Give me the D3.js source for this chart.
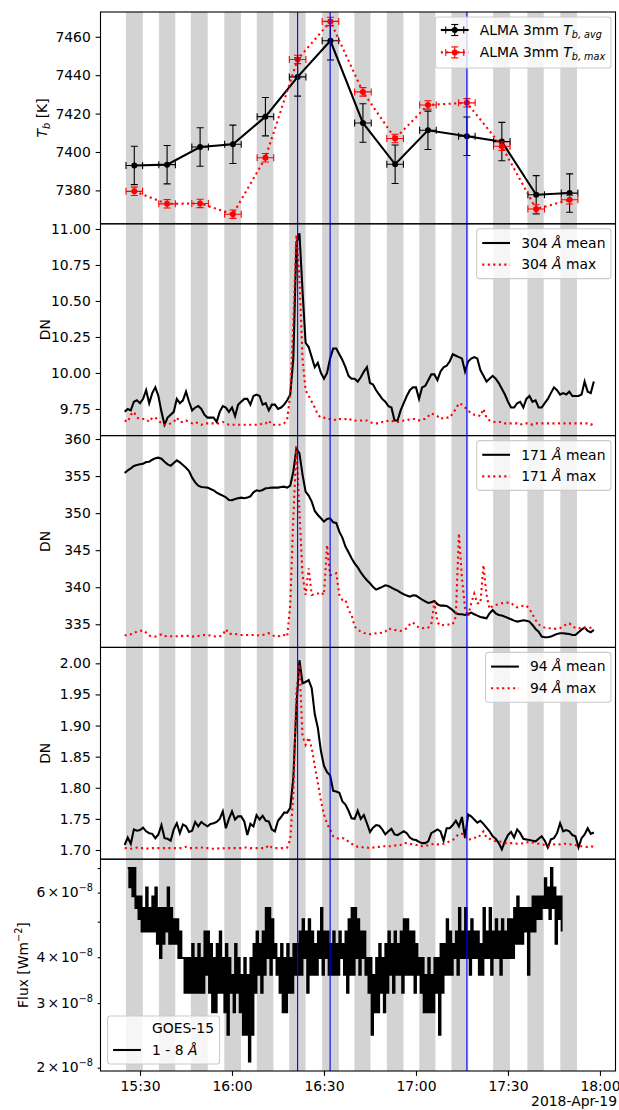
<!DOCTYPE html>
<html>
<head>
<meta charset="utf-8">
<script src="https://cdn.jsdelivr.net/npm/d3@7"></script>
<style>
  body { margin: 0; background: #fff; }
  text { font-family: "DejaVu Sans", sans-serif; }
</style>
</head>
<body>
<svg id="chart" width="619" height="1110"></svg>
<script>
// ---- data (2018-04-19, UT) ----

// ALMA scans (gray bands)
const scanStart = ["15:25:25","15:36:10","15:46:35","15:57:30","16:08:05","16:18:40","16:29:25",
                   "16:39:55","16:50:30","17:01:05","17:11:35","17:25:10","17:36:20","17:47:05"];
const scanEnd   = ["15:30:55","15:41:30","15:52:05","16:02:55","16:13:30","16:24:00","16:34:50",
                   "16:45:10","16:55:55","17:06:20","17:17:05","17:30:40","17:41:40","17:52:30"];

// blue marker lines
const eventTimes = ["16:21:24","16:32:00","17:16:36"];

// ALMA 3mm brightness temperatures
const almaTimes = ["15:28:08","15:38:50","15:49:36","16:00:18","16:10:54","16:21:24","16:32:06",
                   "16:42:42","16:53:12","17:03:54","17:16:36","17:28:00","17:39:12","17:50:06"];
const tbAvg    = [7393.0,7393.4,7402.6,7404.0,7418.4,7439.1,7457.9,7415.1,7393.6,7411.3,7408.2,7405.4,7377.7,7378.6];
const tbAvgErr = [10,10,10,10,10,10,10,10,10,10,10,10,10,10];
const tbMax    = [7379.5,7373.0,7373.2,7367.6,7397.0,7448.2,7468.0,7431.3,7407.0,7424.5,7425.6,7403.0,7370.3,7375.1];
const tbMaxErr = [2.2,2.2,2.2,2.2,2.2,2.2,2.2,2.2,2.2,2.2,2.2,2.2,2.2,2.2];
const almaTimeErrSec = 162;

// SDO/AIA light curves, one value per minute from 15:25
const aiaStart = "15:25:00";
const aiaCadenceSec = 60;
const aia304Mean = [9.73,9.75,9.74,9.80,9.81,
  9.79,9.82,9.88,9.79,9.86,9.90,9.84,9.73,9.64,9.69,
  9.71,9.73,9.82,9.79,9.81,9.87,9.80,9.74,9.76,9.77,
  9.75,9.71,9.69,9.69,9.69,9.66,9.73,9.77,9.76,9.73,
  9.76,9.70,9.78,9.80,9.82,9.82,9.78,9.84,9.85,9.84,
  9.78,9.79,9.74,9.78,9.78,9.75,9.76,9.78,9.81,9.85,
  10.10,10.90,10.97,10.57,10.21,10.18,10.11,10.04,10.07,10.00,
  9.96,10.00,10.10,10.17,10.17,10.13,10.09,10.04,9.98,9.96,
  9.96,9.94,9.97,10.01,10.04,9.93,9.92,9.88,9.85,9.82,
  9.80,9.77,9.76,9.67,9.67,9.74,9.79,9.84,9.88,9.90,
  9.90,9.82,9.90,9.91,9.95,9.99,9.99,9.95,10.01,10.04,
  10.05,10.08,10.13,10.12,10.11,10.10,10.01,10.08,10.10,10.11,
  10.10,10.02,9.98,9.94,9.96,9.98,9.96,9.93,9.89,9.85,
  9.80,9.76,9.76,9.79,9.80,9.76,9.82,9.84,9.80,9.81,
  9.76,9.76,9.79,9.82,9.86,9.90,9.88,9.85,9.86,9.85,
  9.87,9.84,9.84,9.84,9.85,9.94,9.87,9.86,9.94];
const aia304Max = [9.67,9.66,9.71,9.73,9.69,
  9.68,9.68,9.68,9.66,9.69,9.69,9.67,9.65,9.64,9.64,
  9.65,9.66,9.69,9.66,9.66,9.67,9.66,9.65,9.66,9.65,
  9.64,9.65,9.65,9.65,9.65,9.65,9.65,9.66,9.65,9.64,
  9.64,9.64,9.64,9.64,9.64,9.64,9.64,9.64,9.64,9.64,
  9.65,9.65,9.67,9.64,9.64,9.64,9.64,9.65,9.68,9.85,
  10.36,10.96,10.66,10.10,9.88,9.84,9.80,9.76,9.71,9.69,
  9.69,9.68,9.68,9.68,9.67,9.68,9.68,9.68,9.67,9.68,
  9.67,9.67,9.67,9.67,9.67,9.66,9.65,9.65,9.65,9.66,
  9.66,9.67,9.67,9.66,9.66,9.66,9.67,9.67,9.68,9.68,
  9.68,9.67,9.68,9.68,9.70,9.72,9.71,9.70,9.68,9.69,
  9.69,9.69,9.72,9.75,9.79,9.78,9.76,9.74,9.72,9.71,
  9.71,9.70,9.75,9.69,9.67,9.66,9.66,9.66,9.66,9.65,
  9.65,9.65,9.65,9.65,9.64,9.65,9.65,9.65,9.64,9.65,
  9.65,9.65,9.65,9.65,9.65,9.65,9.65,9.65,9.65,9.65,
  9.65,9.65,9.65,9.65,9.65,9.65,9.65,9.64,9.65];
const aia171Mean = [355.41,355.77,356.04,356.36,356.49,
  356.58,356.67,356.90,356.94,357.21,357.39,357.48,357.35,356.94,356.58,
  356.40,356.76,357.12,356.85,356.49,356.13,355.68,354.78,354.15,353.71,
  353.53,353.48,353.44,353.26,353.08,352.76,352.54,352.36,352.13,351.77,
  351.73,351.91,352.00,352.09,352.00,352.09,352.27,352.81,353.08,352.99,
  353.12,353.35,353.39,353.44,353.44,353.44,353.53,353.57,353.44,353.71,
  355.59,358.70,358.07,355.20,352.90,352.36,351.55,350.29,349.75,349.30,
  348.85,349.21,349.30,348.76,348.67,347.50,346.69,345.48,344.71,343.90,
  343.23,342.69,342.01,341.43,340.94,340.53,340.04,339.68,339.86,340.04,
  340.26,340.17,339.95,339.72,339.54,339.27,339.05,338.87,338.73,338.91,
  338.87,338.60,338.33,338.10,337.88,337.97,338.15,337.70,337.52,337.52,
  337.47,337.20,336.89,336.48,336.35,336.35,336.26,336.39,336.57,336.35,
  336.17,335.99,335.90,335.81,336.48,336.93,336.48,336.26,336.17,336.03,
  335.85,335.67,335.49,335.36,335.45,335.54,335.49,335.36,334.91,334.37,
  334.01,333.34,333.25,333.25,333.34,333.52,333.70,333.79,333.79,333.74,
  333.70,333.56,333.56,333.92,334.28,334.55,334.10,333.92,334.24];
const aia171Max = [333.56,333.47,333.65,333.92,333.97,
  334.10,334.19,333.88,333.47,333.38,333.34,333.47,333.65,333.43,333.38,
  333.38,333.38,333.38,333.43,333.43,333.47,333.43,333.34,333.38,333.43,
  333.47,333.56,333.56,333.47,333.38,333.34,333.38,333.56,334.33,333.70,
  333.70,333.70,333.65,333.56,333.56,333.56,333.56,333.56,333.52,333.47,
  333.56,333.65,333.79,333.56,333.38,333.34,333.52,333.56,333.34,337.61,
  349.30,358.97,350.20,341.65,338.96,342.55,338.96,339.05,339.14,339.32,
  338.96,345.70,341.65,341.65,341.88,338.96,338.28,338.28,336.93,336.26,
  334.69,334.28,334.01,333.83,333.74,333.65,333.70,333.79,333.88,333.83,
  334.01,334.46,334.28,334.24,334.19,334.10,334.28,334.46,335.00,335.27,
  334.82,334.55,334.46,334.51,334.55,335.00,338.06,335.27,334.82,334.91,
  334.91,335.00,335.00,336.03,347.27,341.21,337.16,336.03,337.83,339.14,
  337.83,337.83,343.00,339.00,337.07,337.47,337.61,337.70,337.83,337.88,
  337.92,337.88,337.52,337.29,337.34,337.52,337.52,337.07,336.35,335.58,
  335.00,334.69,334.55,334.46,334.46,334.42,334.37,334.51,334.69,335.00,
  335.13,334.82,334.46,334.46,334.51,334.55,334.46,334.55,334.73];
const aia94Mean = [1.708,1.720,1.710,1.733,1.731,
  1.732,1.736,1.730,1.727,1.726,1.719,1.725,1.740,1.719,1.718,
  1.715,1.733,1.743,1.727,1.741,1.738,1.729,1.731,1.745,1.738,
  1.745,1.741,1.738,1.742,1.743,1.745,1.750,1.762,1.735,1.750,
  1.762,1.749,1.754,1.754,1.746,1.724,1.742,1.738,1.756,1.749,
  1.755,1.747,1.746,1.733,1.730,1.747,1.753,1.760,1.760,1.768,
  1.816,1.931,2.005,1.968,1.970,1.973,1.960,1.918,1.896,1.859,
  1.835,1.825,1.820,1.795,1.794,1.792,1.778,1.773,1.763,1.751,
  1.750,1.763,1.750,1.756,1.743,1.729,1.736,1.740,1.739,1.733,
  1.725,1.730,1.734,1.725,1.724,1.727,1.730,1.727,1.720,1.717,
  1.716,1.713,1.711,1.711,1.714,1.727,1.730,1.733,1.730,1.715,
  1.735,1.735,1.740,1.747,1.738,1.753,1.719,1.757,1.754,1.749,
  1.744,1.747,1.742,1.736,1.730,1.722,1.718,1.711,1.701,1.714,
  1.724,1.729,1.720,1.733,1.727,1.718,1.717,1.716,1.715,1.714,
  1.718,1.722,1.715,1.704,1.717,1.719,1.727,1.743,1.730,1.732,
  1.730,1.724,1.722,1.704,1.719,1.725,1.735,1.726,1.728];
const aia94Max = [1.703,1.703,1.702,1.703,1.704,
  1.703,1.703,1.702,1.703,1.703,1.703,1.703,1.703,1.703,1.703,
  1.703,1.703,1.703,1.703,1.703,1.705,1.703,1.703,1.703,1.704,
  1.704,1.703,1.703,1.702,1.702,1.702,1.703,1.703,1.702,1.703,
  1.703,1.703,1.703,1.703,1.704,1.704,1.703,1.703,1.703,1.703,
  1.703,1.703,1.708,1.704,1.703,1.703,1.703,1.703,1.704,1.717,
  1.789,1.955,1.998,1.883,1.869,1.881,1.864,1.835,1.808,1.779,
  1.757,1.742,1.733,1.722,1.719,1.718,1.719,1.718,1.713,1.710,
  1.708,1.705,1.705,1.704,1.704,1.703,1.704,1.705,1.705,1.706,
  1.706,1.706,1.706,1.707,1.708,1.708,1.711,1.711,1.710,1.709,
  1.708,1.708,1.706,1.706,1.708,1.709,1.710,1.709,1.709,1.710,
  1.712,1.714,1.716,1.721,1.726,1.726,1.724,1.716,1.718,1.720,
  1.719,1.724,1.730,1.720,1.718,1.716,1.714,1.714,1.713,1.711,
  1.711,1.711,1.711,1.710,1.710,1.711,1.712,1.713,1.712,1.711,
  1.710,1.709,1.708,1.706,1.707,1.709,1.709,1.709,1.710,1.710,
  1.709,1.709,1.708,1.706,1.706,1.705,1.705,1.706,1.705];

// GOES-15 1-8 A flux (units of 1e-8 W m^-2): per minute from 15:26, upper and lower level
const goesStart = "15:26:00";
const goesHigh = [7.0,7.0,7.0,5.86,
  5.86,5.45,6.2,5.45,5.86,6.2,5.45,5.45,5.45,6.2,
  5.45,5.08,5.08,4.7,3.98,3.98,3.98,4.35,3.98,4.35,
  3.98,4.7,4.7,4.35,3.98,4.35,4.7,3.98,4.35,3.98,
  3.58,4.35,3.98,3.58,3.98,3.58,3.98,4.35,4.7,4.35,
  4.7,5.45,5.45,5.08,4.35,3.98,4.35,3.98,4.35,3.98,
  4.35,4.35,4.7,5.08,4.7,5.08,4.7,4.35,4.7,5.45,
  4.7,4.7,4.35,4.7,4.35,4.7,4.35,4.7,5.08,5.45,
  5.45,5.08,4.7,4.7,3.98,3.98,3.58,3.98,4.35,3.98,
  4.35,4.7,4.35,4.7,4.35,4.7,5.08,5.08,4.7,4.7,
  4.35,3.98,3.98,3.58,3.98,3.58,3.98,3.98,4.35,4.35,
  5.08,4.7,4.35,4.7,5.45,4.7,5.45,4.7,5.08,4.7,
  4.7,4.35,5.45,4.7,5.45,4.7,5.08,4.7,5.08,4.7,
  5.08,5.08,5.45,5.86,5.45,5.45,5.45,5.45,5.86,5.86,
  5.86,5.86,6.57,6.2,7.0,6.2,5.86,5.86];
const goesLow = [6.2,5.86,5.45,5.08,
  4.7,4.7,4.7,4.7,4.7,4.35,3.98,4.35,4.7,4.35,
  4.35,4.35,3.98,3.98,3.2,3.2,3.2,3.2,3.2,3.2,
  3.2,3.58,3.2,2.83,2.83,3.2,3.2,2.83,2.46,3.2,
  2.83,3.2,2.83,2.46,2.46,2.08,2.46,3.2,3.58,3.2,
  3.58,3.98,3.58,3.98,3.58,3.2,2.83,2.83,3.2,3.2,
  3.58,3.58,3.58,3.98,3.2,3.58,3.58,3.58,3.98,3.58,
  3.98,3.58,3.58,3.58,3.58,3.98,3.58,3.2,3.58,3.58,
  3.98,3.58,3.98,3.58,3.2,2.46,2.83,2.83,3.2,2.83,
  3.2,3.58,3.2,3.58,3.58,3.2,3.58,3.58,3.58,3.2,
  3.58,3.2,2.83,2.83,2.83,2.83,3.2,2.46,3.2,3.58,
  3.58,3.58,3.98,3.58,3.98,3.98,3.98,3.58,3.98,3.98,
  3.58,3.58,3.98,3.98,3.58,3.98,3.98,3.58,3.98,3.98,
  3.98,3.98,4.35,4.35,4.35,4.7,3.58,4.7,4.7,5.08,
  5.08,5.45,5.45,5.08,5.45,4.35,5.08,4.7];

// axis ticks
const timeTicks = ["15:30","16:00","16:30","17:00","17:30","18:00"];
const tbTicks = [7380, 7400, 7420, 7440, 7460];
const dn304Ticks = [9.75, 10.0, 10.25, 10.5, 10.75, 11.0];
const dn171Ticks = [335, 340, 345, 350, 355, 360];
const dn94Ticks = [1.70, 1.75, 1.80, 1.85, 1.90, 1.95, 2.00];
const fluxTicks = [2, 3, 4, 5, 6, 7];
const fluxLabelled = [2, 3, 4, 6];

// ---- layout ----
const FS = 13.9, SUB = 9.7;
const tickLen = 4.86, tickPad = 4.86, lw = 2.08, dots = "2.08,3.43";
const left = 100.5, right = 615.5;
const panelTop = [12, 223.8, 435.6, 647.4, 859.2];
const panelH = 211.8;
const dnLabelX = 50;   // the three DN labels share one column

const parseTime = d3.utcParse("%Y-%m-%d %H:%M:%S");
const at = s => parseTime("2018-04-19 " + (s.length === 5 ? s + ":00" : s));
const addSec = (d, s) => new Date(+d + s * 1000);

const svg = d3.select("#chart");
const defs = svg.append("defs");
svg.append("rect").attr("width", 619).attr("height", 1110).attr("fill", "#fff");

const x = d3.scaleUtc().domain([at("15:17:07"), at("18:05:04")]).range([left, right]);

const yScales = [
  d3.scaleLinear().domain([7362.6, 7472.9]),
  d3.scaleLinear().domain([9.565, 11.036]),
  d3.scaleLinear().domain([331.88, 360.46]),
  d3.scaleLinear().domain([1.6852, 2.0256]),
  d3.scaleLog().domain([1.959, 7.40])
];
yScales.forEach((s, i) => s.range([panelTop[i] + panelH, panelTop[i]]));

// panel backgrounds: scan bands, clipped to the axes
const plots = panelTop.map((top, i) => {
  defs.append("clipPath").attr("id", "clip" + i)
    .append("rect").attr("x", left).attr("y", top).attr("width", right - left).attr("height", panelH);
  const g = svg.append("g").attr("clip-path", `url(#clip${i})`);
  g.selectAll("rect.band").data(scanStart).join("rect")
    .attr("class", "band")
    .attr("x", d => x(at(d)))
    .attr("width", (d, j) => x(at(scanEnd[j])) - x(at(d)))
    .attr("y", top).attr("height", panelH)
    .attr("fill", "#d3d3d3");
  return g;
});

// ---- panel 1: ALMA ----
function errorSeries(g, times, vals, errs, color, dashed) {
  const y = yScales[0];
  const pts = times.map((t, j) => ({ t: at(t), v: vals[j], e: errs[j] }));
  const eb = g.append("g").attr("stroke", color).attr("stroke-width", 1.1);
  pts.forEach(p => {
    const cx = x(p.t), cy = y(p.v);
    const x0 = x(addSec(p.t, -almaTimeErrSec)), x1 = x(addSec(p.t, almaTimeErrSec));
    const y0 = y(p.v - p.e), y1 = y(p.v + p.e);
    eb.append("line").attr("x1", x0).attr("x2", x1).attr("y1", cy).attr("y2", cy);
    eb.append("line").attr("x1", x0).attr("x2", x0).attr("y1", cy - 3.5).attr("y2", cy + 3.5);
    eb.append("line").attr("x1", x1).attr("x2", x1).attr("y1", cy - 3.5).attr("y2", cy + 3.5);
    eb.append("line").attr("x1", cx).attr("x2", cx).attr("y1", y0).attr("y2", y1);
    eb.append("line").attr("x1", cx - 3.5).attr("x2", cx + 3.5).attr("y1", y0).attr("y2", y0);
    eb.append("line").attr("x1", cx - 3.5).attr("x2", cx + 3.5).attr("y1", y1).attr("y2", y1);
  });
  g.append("path").datum(pts)
    .attr("d", d3.line().x(p => x(p.t)).y(p => y(p.v)))
    .attr("fill", "none").attr("stroke", color).attr("stroke-width", lw)
    .attr("stroke-dasharray", dashed ? dots : null);
  g.selectAll(null).data(pts).join("circle")
    .attr("cx", p => x(p.t)).attr("cy", p => y(p.v)).attr("r", 3).attr("fill", color);
}
errorSeries(plots[0], almaTimes, tbAvg, tbAvgErr, "#000", false);
errorSeries(plots[0], almaTimes, tbMax, tbMaxErr, "#ff0000", true);

// ---- panels 2-4: AIA ----
const aiaTimes = aia304Mean.map((_, i) => addSec(at(aiaStart), i * aiaCadenceSec));
function aiaLine(i, vals, dashed) {
  const y = yScales[i];
  plots[i].append("path").datum(vals)
    .attr("d", d3.line().x((d, j) => x(aiaTimes[j])).y(d => y(d)))
    .attr("fill", "none")
    .attr("stroke", dashed ? "#ff0000" : "#000")
    .attr("stroke-width", lw)
    .attr("stroke-dasharray", dashed ? dots : null);
}
aiaLine(1, aia304Mean, false); aiaLine(1, aia304Max, true);
aiaLine(2, aia171Mean, false); aiaLine(2, aia171Max, true);
aiaLine(3, aia94Mean, false);  aiaLine(3, aia94Max, true);

// ---- panel 5: GOES ----
const goesPts = [];
goesHigh.forEach((h, i) => {
  const t = addSec(at(goesStart), i * 60);
  goesPts.push({ t, v: h });
  goesPts.push({ t: addSec(t, 30), v: goesLow[i] });
});
plots[4].append("path").datum(goesPts)
  .attr("d", d3.line().curve(d3.curveStepAfter).x(p => x(p.t)).y(p => yScales[4](p.v)))
  .attr("fill", "none").attr("stroke", "#000").attr("stroke-width", 1.9)
  .attr("stroke-linejoin", "miter");

// event lines on every panel
plots.forEach(g => {
  g.selectAll("line.event").data(eventTimes).join("line")
    .attr("class", "event")
    .attr("x1", d => x(at(d))).attr("x2", d => x(at(d)))
    .attr("y1", 0).attr("y2", 1110)
    .attr("stroke", "#0000ff").attr("stroke-width", 1.1);
});

// ---- axes ----
function styleAxis(ax) {
  ax.attr("font-size", null).attr("font-family", null);
  ax.select(".domain").remove();
  ax.selectAll("line").attr("stroke", "#000").attr("stroke-width", 1.1);
  ax.selectAll("text").attr("font-size", FS).attr("fill", "#000");
}

function yAxis(i, ticks, fmt) {
  const ax = svg.append("g").attr("transform", `translate(${left},0)`)
    .call(d3.axisLeft(yScales[i]).tickValues(ticks).tickFormat(fmt).tickSize(tickLen).tickPadding(tickPad));
  styleAxis(ax);
  return ax;
}

const yAxes = [
  yAxis(0, tbTicks, d3.format("d")),
  yAxis(1, dn304Ticks, d3.format(".2f")),
  yAxis(2, dn171Ticks, d3.format("d")),
  yAxis(3, dn94Ticks, d3.format(".2f"))
];

// log axis with minor ticks and mathtext-like labels
const fluxAx = svg.append("g").attr("transform", `translate(${left},0)`)
  .call(d3.axisLeft(yScales[4]).tickValues(fluxTicks).tickFormat("").tickSize(2.8).tickPadding(4.7));
styleAxis(fluxAx);
fluxAx.selectAll("text").remove();
fluxLabelled.forEach(v => {
  const t = fluxAx.append("text").attr("x", -7.5).attr("y", yScales[4](v) + 4.6)
    .attr("text-anchor", "end").attr("font-size", FS).attr("fill", "#000");
  t.append("tspan").text(v);
  t.append("tspan").attr("dx", 2).text("\u00d7");
  t.append("tspan").attr("dx", 2).text("10");
  t.append("tspan").attr("dy", -6).attr("font-size", SUB).text("\u22128");
});
yAxes.push(fluxAx);

// time axis at the bottom
const xAx = svg.append("g").attr("transform", `translate(0,${panelTop[4] + panelH})`)
  .call(d3.axisBottom(x).tickValues(timeTicks.map(at)).tickFormat(d3.utcFormat("%H:%M"))
    .tickSize(tickLen).tickPadding(tickPad));
styleAxis(xAx);
svg.append("text").attr("x", 617).attr("y", 1106).attr("text-anchor", "end")
  .attr("font-size", FS).text("2018-Apr-19");

// y labels, placed left of the tick labels (DN labels aligned)
const yLabels = [
  t => { t.append("tspan").attr("font-style", "italic").text("T");
         t.append("tspan").attr("font-style", "italic").attr("font-size", SUB).attr("dy", 3).text("b");
         t.append("tspan").attr("dy", -3).text(" [K]"); },
  t => t.text("DN"),
  t => t.text("DN"),
  t => t.text("DN"),
  t => { t.append("tspan").text("Flux [Wm");
         t.append("tspan").attr("font-size", SUB).attr("dy", -6).text("\u22122");
         t.append("tspan").attr("dy", 6).text("]"); }
];
yAxes.forEach((ax, i) => {
  const minX = left + ax.node().getBBox().x;
  const bx = (i >= 1 && i <= 3) ? dnLabelX : minX - 5.56 - 3.3;
  const cy = panelTop[i] + panelH / 2;
  const t = svg.append("text").attr("transform", `translate(${bx},${cy}) rotate(-90)`)
    .attr("text-anchor", "middle").attr("font-size", FS).attr("fill", "#000");
  yLabels[i](t);
});

// spines
panelTop.forEach(top => {
  svg.append("rect").attr("x", left).attr("y", top).attr("width", right - left).attr("height", panelH)
    .attr("fill", "none").attr("stroke", "#000").attr("stroke-width", 1.1);
});

// ---- legends ----
function drawHandle(g, kind, x0, x1, cy) {
  const cx = (x0 + x1) / 2;
  if (kind === "none") return;
  const color = kind.endsWith("red") ? "#ff0000" : "#000";
  const dashed = kind.startsWith("dot") || kind === "err-red";
  g.append("line").attr("x1", x0).attr("x2", x1).attr("y1", cy).attr("y2", cy)
    .attr("stroke", color).attr("stroke-width", lw).attr("stroke-dasharray", dashed ? dots : null);
  if (kind.startsWith("err")) {
    const e = g.append("g").attr("stroke", color).attr("stroke-width", 1.1);
    e.append("line").attr("x1", cx - 9).attr("x2", cx + 9).attr("y1", cy).attr("y2", cy);
    e.append("line").attr("x1", cx - 9).attr("x2", cx - 9).attr("y1", cy - 3.5).attr("y2", cy + 3.5);
    e.append("line").attr("x1", cx + 9).attr("x2", cx + 9).attr("y1", cy - 3.5).attr("y2", cy + 3.5);
    e.append("line").attr("x1", cx).attr("x2", cx).attr("y1", cy - 5.5).attr("y2", cy + 5.5);
    e.append("line").attr("x1", cx - 3.5).attr("x2", cx + 3.5).attr("y1", cy - 5.5).attr("y2", cy - 5.5);
    e.append("line").attr("x1", cx - 3.5).attr("x2", cx + 3.5).attr("y1", cy + 5.5).attr("y2", cy + 5.5);
    g.append("circle").attr("cx", cx).attr("cy", cy).attr("r", 3).attr("fill", color);
  }
}

function legend(entries, opts) {
  const g = svg.append("g");
  const box = g.append("rect").attr("rx", 2.8).attr("fill", "#fff").attr("fill-opacity", 0.8)
    .attr("stroke", "#cccccc").attr("stroke-width", 1.1);
  const texts = entries.map((e, k) => {
    const cy = opts.rows[k];
    drawHandle(g, e.kind, 5.56, 33.36, cy);
    const t = g.append("text").attr("x", 44.5).attr("y", cy + 4.9).attr("font-size", FS).attr("fill", "#000");
    e.label(t);
    return t;
  });
  const w = 44.5 + d3.max(texts, t => t.node().getBBox().width) + 5.56;
  box.attr("x", 0).attr("y", 0).attr("width", w).attr("height", opts.h);
  const gx = opts.right !== undefined ? opts.right - w : opts.left;
  g.attr("transform", `translate(${gx},${opts.top})`);
}

const ang = (t, pre, post) => {
  t.append("tspan").text(pre);
  t.append("tspan").attr("font-style", "italic").text("\u00c5");
  t.append("tspan").text(post);
};
const tbLabel = sub => t => {
  t.append("tspan").text("ALMA 3mm ");
  t.append("tspan").attr("font-style", "italic").text("T");
  t.append("tspan").attr("font-style", "italic").attr("font-size", SUB).attr("dy", 3).text(sub);
};

legend([
  { kind: "err-black", label: tbLabel("b, avg") },
  { kind: "err-red", label: tbLabel("b, max") }
], { right: 611, top: panelTop[0] + 5, h: 51, rows: [13, 35.4] });

[["304", 1], ["171", 2], ["94", 3]].forEach(([wl, i]) => {
  legend([
    { kind: "line", label: t => ang(t, wl + " ", " mean") },
    { kind: "dot-red", label: t => ang(t, wl + " ", " max") }
  ], { right: 611, top: panelTop[i] + 5, h: 49.8, rows: [14.2, 35.8] });
});

legend([
  { kind: "none", label: t => t.text("GOES-15") },
  { kind: "line", label: t => ang(t, "1 - 8 ", "") }
], { left: 107.5, top: 1016, h: 48, rows: [12.5, 34] });
</script>
</body>
</html>
